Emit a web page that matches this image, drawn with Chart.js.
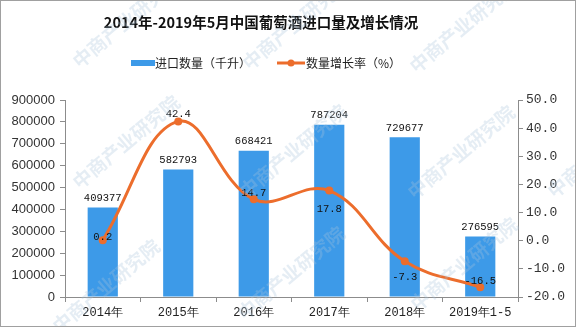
<!DOCTYPE html>
<html>
<head>
<meta charset="utf-8">
<script src="https://cdn.jsdelivr.net/npm/chart.js@4.4.1/dist/chart.umd.min.js"></script>
<style>
  html, body { margin: 0; padding: 0; background: #fff; }
  #wrap { width: 576px; height: 327px; position: relative; box-sizing: border-box; border: 1px solid #a0a0a0; }
</style>
</head>
<body>
<div id="wrap"><canvas id="c" width="574" height="325"></canvas></div>
<script>
const titleText = "2014年-2019年5月中国葡萄酒进口量及增长情况"
const years = ["2014年", "2015年", "2016年", "2017年", "2018年", "2019年1-5"]
const importVolume = [409377, 582793, 668421, 787204, 729677, 276595]
const growthRate = [0.2, 42.4, 14.7, 17.8, -7.3, -16.5]
const barLabel = "进口数量（千升）"
const lineLabel = "数量增长率（%）"
const watermark = "中商产业研究院"

const blue = "#3d9ae8"
const orange = "#ec6d2c"
const axisColor = "#8c8c8c"
const numFont = "'Liberation Mono', 'DejaVu Sans Mono', monospace"
const cjkFont = "'Noto Sans CJK SC', 'Liberation Sans', sans-serif"
// vertical nudges for the rate labels so they sit clear of the curve
const rateLabelShift = [-3, -7, -6, 19, 16, -6]

const overlay = {
  id: "overlay",
  afterDraw(chart) {
    const ctx = chart.ctx
    ctx.save()
    // title
    ctx.fillStyle = "#111"
    ctx.font = "bold 14.5px " + cjkFont
    ctx.textAlign = "center"
    ctx.textBaseline = "middle"
    ctx.fillText(titleText, 260, 21)

    // legend
    ctx.font = "12px " + cjkFont
    ctx.textAlign = "left"
    ctx.fillStyle = blue
    ctx.fillRect(130, 59, 24, 6)
    ctx.fillStyle = "#222"
    ctx.fillText(barLabel, 154, 62)
    ctx.strokeStyle = orange
    ctx.lineWidth = 3
    ctx.beginPath(); ctx.moveTo(276, 62); ctx.lineTo(304, 62); ctx.stroke()
    ctx.fillStyle = orange
    ctx.beginPath(); ctx.arc(290, 62, 3.5, 0, Math.PI * 2); ctx.fill()
    ctx.fillStyle = "#222"
    ctx.fillText(lineLabel, 305, 62)

    // value labels
    ctx.font = "10.5px " + numFont
    ctx.textAlign = "center"
    ctx.fillStyle = "#111"
    chart.getDatasetMeta(0).data.forEach((bar, i) => {
      ctx.fillText(String(importVolume[i]), bar.x, bar.y - 9)
    })
    chart.getDatasetMeta(1).data.forEach((pt, i) => {
      ctx.fillText(growthRate[i].toFixed(1), pt.x, pt.y + rateLabelShift[i])
    })

    // faint diagonal watermark
    ctx.font = "bold 19px " + cjkFont
    ctx.fillStyle = "rgba(170,195,220,0.3)"
    ;[[-40, 20], [125, 20], [295, 22], [462, 25], [-55, 145], [125, 141], [292, 150], [460, 151],
      [105, 285], [290, 272], [463, 263], [600, 150]].forEach(([x, y]) => {
      ctx.save()
      ctx.translate(x, y)
      ctx.rotate(-40 * Math.PI / 180)
      ctx.fillText(watermark, 0, 0)
      ctx.restore()
    })
    ctx.restore()
  }
}

new Chart(document.getElementById("c"), {
  type: "bar",
  data: {
    labels: years,
    datasets: [
      {
        type: "bar",
        data: importVolume,
        backgroundColor: blue,
        barPercentage: 0.8,
        categoryPercentage: 0.5,
        yAxisID: "y",
        order: 2
      },
      {
        type: "line",
        data: growthRate,
        borderColor: orange,
        backgroundColor: orange,
        borderWidth: 3,
        pointRadius: 4,
        pointBackgroundColor: orange,
        pointBorderWidth: 0,
        tension: 0.4,
        yAxisID: "y1",
        order: 1
      }
    ]
  },
  options: {
    responsive: false,
    animation: false,
    layout: { padding: { top: 99, left: 0, right: 0, bottom: 0 } },
    plugins: { legend: { display: false }, tooltip: { enabled: false } },
    scales: {
      x: {
        afterFit: (s) => { s.height = 29 },
        grid: { display: true, drawOnChartArea: false, tickLength: 5, color: axisColor, offset: true },
        border: { color: axisColor },
        ticks: { color: "#222", font: { size: 12, family: numFont }, padding: 4, maxRotation: 0 }
      },
      y: {
        position: "left",
        min: 0,
        max: 900000,
        afterFit: (s) => { s.width = 64 },
        grid: { drawOnChartArea: false, tickLength: 5, color: axisColor },
        border: { color: axisColor },
        ticks: {
          stepSize: 100000,
          color: "#333",
          font: { size: 13, family: "'Liberation Sans', sans-serif" },
          padding: 5,
          callback: (v) => String(v)
        }
      },
      y1: {
        position: "right",
        min: -20,
        max: 50,
        afterFit: (s) => { s.width = 57 },
        grid: { drawOnChartArea: false, tickLength: 5, color: axisColor },
        border: { color: axisColor },
        ticks: {
          stepSize: 10,
          color: "#333",
          font: { size: 13, family: numFont },
          padding: 3,
          callback: (v) => v.toFixed(1)
        }
      }
    }
  },
  plugins: [overlay]
})
</script>
</body>
</html>
